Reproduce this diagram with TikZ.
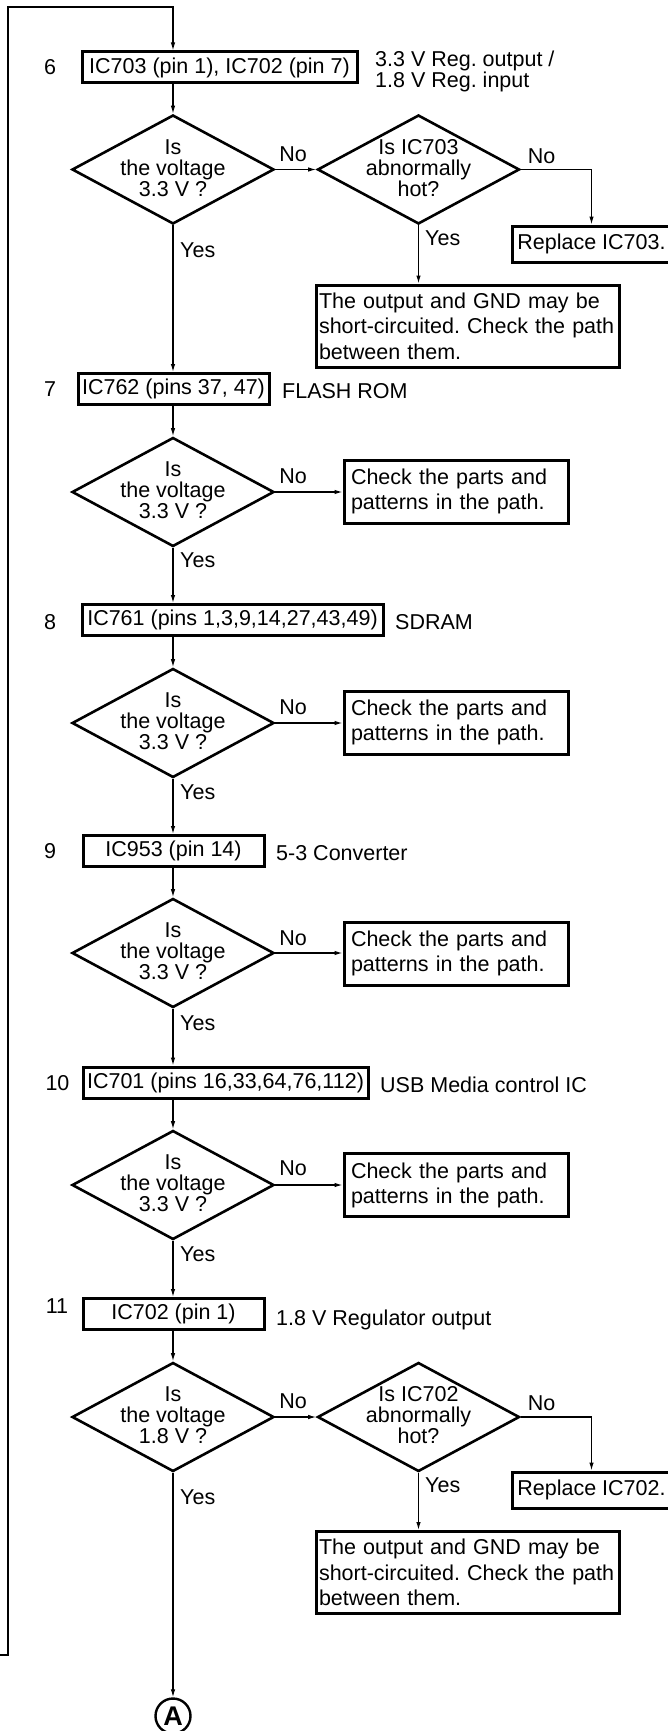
\documentclass[tikz,border=0pt]{standalone}
\usepackage{fontspec}
\setmainfont{Liberation Sans}
\usetikzlibrary{shapes.geometric,arrows.meta}
\frenchspacing
\begin{document}
\begin{tikzpicture}[x=1pt,y=-1pt,
  font=\fontsize{21.5}{25}\selectfont,
  box/.style={draw,line width=3pt,minimum height=31pt,inner sep=0pt},
  decision/.style={draw,diamond,line width=2.6pt,minimum width=202pt,minimum height=109pt,inner sep=0pt},
  dtext/.style={align=center,font=\fontsize{21.5}{21}\selectfont,inner sep=0pt},
  check/.style={draw,line width=3pt,text width=210pt,inner xsep=7pt,inner ysep=0pt,minimum height=63pt,align=left},
  outbox/.style={draw,line width=3pt,text width=297pt,inner xsep=3pt,inner ysep=0pt,minimum height=82pt,align=left,font=\fontsize{21.5}{25.5}\selectfont},
  repbox/.style={draw,line width=3pt,minimum width=159pt,minimum height=36pt,inner sep=0pt},
  lbl/.style={inner sep=0pt},
  conn/.style={line width=1.2pt},
  arr/.style={conn,-{Latex[length=8pt,width=4.5pt]}},
]
\useasboundingbox (0,0) rectangle (668,1731);
\fill[white] (0,0) rectangle (668,1731);

% ---------- step 6
\node[lbl] (n6) at (50,67) {6};
\node[box,minimum width=275pt] (b6) at (219.5,67.5) {IC703 (pin 1), IC702 (pin 7)};
\node[lbl,anchor=west,align=left,font=\fontsize{21.5}{20}\selectfont] (s6) at (375,71.5) {3.3 V Reg. output /\\1.8 V Reg. input};
\node[decision] (d6) at (173,169.5) {};
\node[dtext] (d6t) at (173,168) {Is\\the voltage\\3.3 V ?};
\node[decision] (d6b) at (418.5,169.5) {};
\node[dtext] (d6bt) at (418.5,168) {Is IC703\\abnormally\\hot?};
\node[repbox] (r6) at (591.5,244) {Replace IC703.};
\node[outbox] (o6) at (467.5,326) {The output and GND may be\\short-circuited. Check the path\\between them.};
\node[lbl] (no6a) at (293,154.5) {No};
\node[lbl] (no6b) at (541.5,156) {No};
\node[lbl,anchor=west] (y6a) at (180,250) {Yes};
\node[lbl,anchor=west] (y6b) at (425,238) {Yes};

% ---------- step 7
\node[lbl] (n7) at (50,389) {7};
\node[box,minimum width=191pt] (b7) at (173.5,389) {IC762 (pins 37, 47)};
\node[lbl,anchor=west] (s7) at (282,391) {FLASH ROM};
\node[decision] (d7) at (173,492) {};
\node[dtext] (d7t) at (173,490.5) {Is\\the voltage\\3.3 V ?};
\node[check] (c7) at (456,491.5) {Check the parts and\\patterns in the path.};
\node[lbl] (no7) at (293,476) {No};
\node[lbl,anchor=west] (y7) at (180,560) {Yes};

% ---------- step 8
\node[lbl] (n8) at (50,622) {8};
\node[box,minimum width=301pt] (b8) at (232.5,620) {IC761 (pins 1,3,9,14,27,43,49)};
\node[lbl,anchor=west] (s8) at (395,622) {SDRAM};
\node[decision] (d8) at (173,723) {};
\node[dtext] (d8t) at (173,721.5) {Is\\the voltage\\3.3 V ?};
\node[check] (c8) at (456,722.5) {Check the parts and\\patterns in the path.};
\node[lbl] (no8) at (293,707) {No};
\node[lbl,anchor=west] (y8) at (180,792) {Yes};

% ---------- step 9
\node[lbl] (n9) at (50,851.5) {9};
\node[box,minimum width=181pt] (b9) at (173.5,851) {IC953 (pin 14)};
\node[lbl,anchor=west] (s9) at (276,853) {5-3 Converter};
\node[decision] (d9) at (173,953) {};
\node[dtext] (d9t) at (173,951.5) {Is\\the voltage\\3.3 V ?};
\node[check] (c9) at (456,953.5) {Check the parts and\\patterns in the path.};
\node[lbl] (no9) at (293,938) {No};
\node[lbl,anchor=west] (y9) at (180,1023) {Yes};

% ---------- step 10
\node[lbl] (n10) at (57.5,1083) {10};
\node[box,minimum width=285pt] (b10) at (225.5,1082.5) {IC701 (pins 16,33,64,76,112)};
\node[lbl,anchor=west] (s10) at (380,1085) {USB Media control IC};
\node[decision] (d10) at (173,1185) {};
\node[dtext] (d10t) at (173,1183.5) {Is\\the voltage\\3.3 V ?};
\node[check] (c10) at (456,1185) {Check the parts and\\patterns in the path.};
\node[lbl] (no10) at (293,1168) {No};
\node[lbl,anchor=west] (y10) at (180,1254) {Yes};

% ---------- step 11
\node[lbl] (n11) at (57,1306) {11};
\node[box,minimum width=181pt] (b11) at (173.5,1314) {IC702 (pin 1)};
\node[lbl,anchor=west] (s11) at (276,1320) {1.8 V Regulator output};
\node[decision] (d11) at (173,1417) {};
\node[dtext] (d11t) at (173,1415.5) {Is\\the voltage\\1.8 V ?};
\node[decision] (d11b) at (418.5,1417) {};
\node[dtext] (d11bt) at (418.5,1415.5) {Is IC702\\abnormally\\hot?};
\node[repbox] (r11) at (591.5,1490) {Replace IC702.};
\node[outbox] (o11) at (467.5,1572.5) {The output and GND may be\\short-circuited. Check the path\\between them.};
\node[lbl] (no11a) at (293,1401) {No};
\node[lbl] (no11b) at (541.5,1403) {No};
\node[lbl,anchor=west] (y11a) at (180,1497) {Yes};
\node[lbl,anchor=west] (y11b) at (425,1485) {Yes};

\node[draw,circle,line width=2.4pt,minimum size=35pt,inner sep=0pt,font=\fontsize{27}{27}\selectfont\bfseries] (A) at (173,1716) {A};

% ---------- connectors
\coordinate (s0) at (0,1655);
\coordinate (s1) at (8,1655);
\coordinate (s2) at (8,7);
\draw[arr] (s0) -- (s1) -- (s2) -- (s2 -| d6.north) -- (b6.north -| d6.north);
\draw[arr] (b6.south -| d6.north) -- (d6.north);
\draw[arr] (d6.east) -- (d6b.west);
\draw[arr] (d6b.east) -| (r6.north);
\draw[arr] (d6b.south) -- (d6b.south |- o6.north);
\draw[arr] (d6.south) -- (d6.south |- b7.north);

\draw[arr] (b7.south -| d7.north) -- (d7.north);
\draw[arr] (d7.east) -- (d7.east -| c7.west);
\draw[arr] (d7.south) -- (d7.south |- b8.north);

\draw[arr] (b8.south -| d8.north) -- (d8.north);
\draw[arr] (d8.east) -- (d8.east -| c8.west);
\draw[arr] (d8.south) -- (d8.south |- b9.north);

\draw[arr] (b9.south -| d9.north) -- (d9.north);
\draw[arr] (d9.east) -- (d9.east -| c9.west);
\draw[arr] (d9.south) -- (d9.south |- b10.north);

\draw[arr] (b10.south -| d10.north) -- (d10.north);
\draw[arr] (d10.east) -- (d10.east -| c10.west);
\draw[arr] (d10.south) -- (d10.south |- b11.north);

\draw[arr] (b11.south -| d11.north) -- (d11.north);
\draw[arr] (d11.east) -- (d11b.west);
\draw[arr] (d11b.east) -| (r11.north);
\draw[arr] (d11b.south) -- (d11b.south |- o11.north);
\draw[arr] (d11.south) -- (A.north);
\end{tikzpicture}
\end{document}
